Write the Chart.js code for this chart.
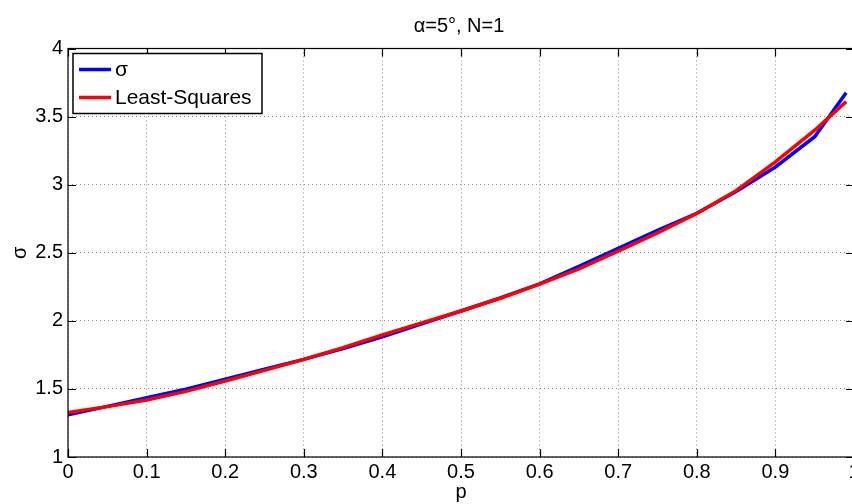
<!DOCTYPE html>
<html>
<head>
<meta charset="utf-8">
<title>sigma vs p</title>
<script src="https://cdn.jsdelivr.net/npm/chart.js@4/dist/chart.umd.min.js"></script>
<style>
    html, body { margin: 0; padding: 0; background: #fff; overflow: hidden; }
    #wrap { width: 852px; height: 504px; overflow: hidden; }
</style>
</head>
<body>
<div id="wrap"><canvas id="chart" width="880" height="504"></canvas></div>
<script>
// --- data ---
const pValues = [0, 0.05, 0.1, 0.15, 0.2, 0.25, 0.3, 0.35, 0.4, 0.45, 0.5,
                 0.55, 0.6, 0.65, 0.7, 0.75, 0.8, 0.85, 0.9, 0.95, 0.99];
const sigmaValues = [1.310, 1.372, 1.435, 1.498, 1.572, 1.644, 1.717, 1.797, 1.882, 1.978, 2.072,
                     2.168, 2.272, 2.400, 2.532, 2.665, 2.790, 2.950, 3.130, 3.352, 3.675];
const lsqValues = [1.327, 1.370, 1.418, 1.482, 1.558, 1.636, 1.717, 1.803, 1.897, 1.985, 2.072,
                   2.166, 2.270, 2.382, 2.512, 2.646, 2.788, 2.956, 3.168, 3.400, 3.610];
const xTicks = [0, 0.1, 0.2, 0.3, 0.4, 0.5, 0.6, 0.7, 0.8, 0.9, 1];
const yTicks = [1, 1.5, 2, 2.5, 3, 3.5, 4];
const legendLabels = ['σ', 'Least-Squares'];
const titleText = 'α=5°, N=1';

const FONT = '"Liberation Sans", Arial, Helvetica, sans-serif';
const BLUE = '#0000ff';
const RED = '#ff0000';

const toPoints = (ys) => pValues.map((p, i) => ({ x: p, y: ys[i] }));

// title over the axes, frame, inward ticks on all four sides, boxed legend
const matlabAxes = {
    id: 'matlabAxes',
    afterDraw(chart) {
        const { ctx, chartArea: a, scales } = chart;
        const tl = 8;
        ctx.save();

        ctx.fillStyle = '#000';
        ctx.font = '20px ' + FONT;
        ctx.textAlign = 'center';
        ctx.textBaseline = 'middle';
        ctx.fillText(titleText, (a.left + a.right) / 2 - 2, 26);

        ctx.strokeStyle = '#000';
        ctx.lineWidth = 1.2;
        ctx.strokeRect(a.left, a.top, a.right - a.left, a.bottom - a.top);
        ctx.beginPath();
        xTicks.forEach(v => {
            const x = Math.round(scales.x.getPixelForValue(v)) + 0.5;
            ctx.moveTo(x, a.bottom); ctx.lineTo(x, a.bottom - tl);
            ctx.moveTo(x, a.top); ctx.lineTo(x, a.top + tl);
        });
        yTicks.forEach(v => {
            const y = Math.round(scales.y.getPixelForValue(v)) + 0.5;
            ctx.moveTo(a.left, y); ctx.lineTo(a.left + tl, y);
            ctx.moveTo(a.right, y); ctx.lineTo(a.right - tl, y);
        });
        ctx.stroke();

        // legend box
        const bx = a.left + 5, by = a.top + 5, bw = 189, bh = 60;
        ctx.fillStyle = '#fff';
        ctx.fillRect(bx, by, bw, bh);
        ctx.lineWidth = 1.5;
        ctx.strokeRect(bx, by, bw, bh);
        const colors = [BLUE, RED];
        ctx.font = '21px ' + FONT;
        ctx.textAlign = 'left';
        legendLabels.forEach((lab, i) => {
            const y = by + 16 + i * 28;
            ctx.strokeStyle = colors[i];
            ctx.lineWidth = 3.5;
            ctx.beginPath();
            ctx.moveTo(bx + 6, y); ctx.lineTo(bx + 38, y);
            ctx.stroke();
            ctx.fillStyle = '#000';
            ctx.fillText(lab, bx + 42, y + 1);
        });
        ctx.restore();
    }
};

// dotted grey grid (v4 takes the grid dash from border.dash)
const gridStyle = {
    color: 'rgba(0, 0, 0, 0.45)',
    lineWidth: 1,
    drawTicks: false
};
const gridBorder = { display: false, dash: [1, 3] };

new Chart(document.getElementById('chart'), {
    type: 'line',
    data: {
        datasets: [{
            label: legendLabels[0],
            data: toPoints(sigmaValues),
            borderColor: BLUE,
            borderWidth: 3.5,
            pointRadius: 0,
            tension: 0,
            order: 1
        }, {
            label: legendLabels[1],
            data: toPoints(lsqValues),
            borderColor: RED,
            borderWidth: 3.5,
            pointRadius: 0,
            tension: 0,
            order: 0
        }]
    },
    options: {
        responsive: false,
        animation: false,
        layout: { padding: { left: 0, right: 26, top: 48.5, bottom: 0 } },
        scales: {
            x: {
                type: 'linear',
                min: 0, max: 1,
                afterBuildTicks: (s) => { s.ticks = xTicks.map(v => ({ value: v })); },
                afterFit: (s) => { s.height = 47; },
                ticks: {
                    color: '#000',
                    font: { family: FONT, size: 20 },
                    padding: 3,
                    maxRotation: 0,
                    autoSkip: false,
                    callback: (v) => String(v)
                },
                grid: gridStyle,
                border: gridBorder,
                title: {
                    display: true,
                    text: 'p',
                    color: '#000',
                    font: { family: FONT, size: 20 },
                    padding: 0
                }
            },
            y: {
                type: 'linear',
                min: 1, max: 4,
                afterBuildTicks: (s) => { s.ticks = yTicks.map(v => ({ value: v })); },
                afterFit: (s) => { s.width = 68; },
                ticks: {
                    color: '#000',
                    font: { family: FONT, size: 20 },
                    padding: 5,
                    callback: (v) => String(v)
                },
                grid: gridStyle,
                border: gridBorder,
                title: {
                    display: true,
                    text: 'σ',
                    color: '#000',
                    font: { family: FONT, size: 20 },
                    padding: { top: 8, bottom: 0 }
                }
            }
        },
        plugins: {
            legend: { display: false },
            tooltip: { enabled: false }
        }
    },
    plugins: [matlabAxes]
});
</script>
</body>
</html>
